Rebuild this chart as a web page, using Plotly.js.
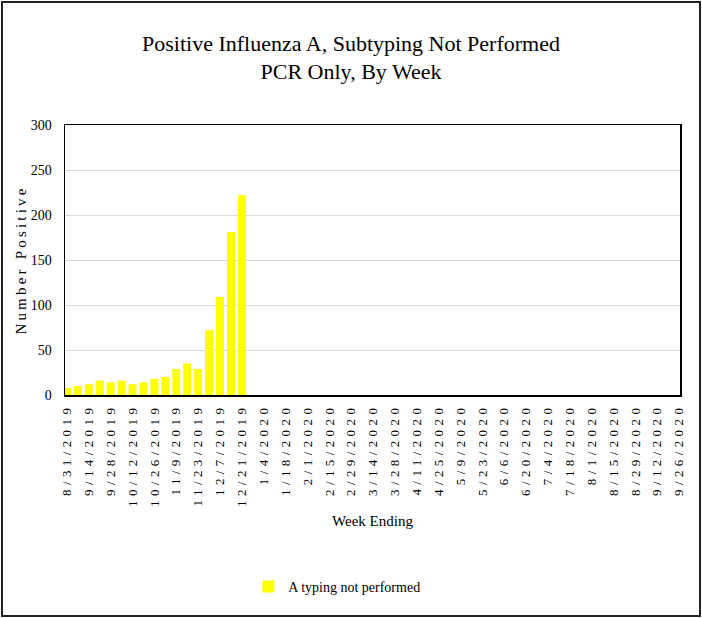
<!DOCTYPE html>
<html>
<head>
<meta charset="utf-8">
<script src="https://cdn.plot.ly/plotly-3.0.1.min.js"></script>
<style>
  html, body { margin: 0; padding: 0; background: #fff; }
  #wrap { position: relative; width: 702px; height: 618px; }
  #chart { position: absolute; left: 0; top: 0; width: 702px; height: 618px; }
  #frame { position: absolute; left: 1px; top: 1px; width: 696px; height: 612px;
           border: 2px solid #222; pointer-events: none; }
  #chart .xtick text { letter-spacing: 4.4px; }
  #chart .g-ytitle text { letter-spacing: 3.2px; }
</style>
</head>
<body>
<div id="wrap">
  <div id="chart"></div>
  <div id="frame"></div>
</div>
<script>
// Week-ending categories (weekly)
const weeks = [
  "8/31/2019","9/7/2019","9/14/2019","9/21/2019","9/28/2019","10/5/2019","10/12/2019",
  "10/19/2019","10/26/2019","11/2/2019","11/9/2019","11/16/2019","11/23/2019","11/30/2019",
  "12/7/2019","12/14/2019","12/21/2019","12/28/2019","1/4/2020","1/11/2020","1/18/2020",
  "1/25/2020","2/1/2020","2/8/2020","2/15/2020","2/22/2020","2/29/2020","3/7/2020",
  "3/14/2020","3/21/2020","3/28/2020","4/4/2020","4/11/2020","4/18/2020","4/25/2020",
  "5/2/2020","5/9/2020","5/16/2020","5/23/2020","5/30/2020","6/6/2020","6/13/2020",
  "6/20/2020","6/27/2020","7/4/2020","7/11/2020","7/18/2020","7/25/2020","8/1/2020",
  "8/8/2020","8/15/2020","8/22/2020","8/29/2020","9/5/2020","9/12/2020","9/19/2020",
  "9/26/2020"
];

// Reported counts (weeks with data only)
const aTypingNotPerformed = [8, 10, 12, 16, 14, 16, 12, 14, 18, 20, 29, 35, 29, 72, 109, 181, 222];

// Labelled ticks on the x axis
const tickLabels = [
  "8/31/2019","9/14/2019","9/28/2019","10/12/2019","10/26/2019","11/9/2019","11/23/2019",
  "12/7/2019","12/21/2019","1/4/2020","1/18/2020","2/1/2020","2/15/2020","2/29/2020",
  "3/14/2020","3/28/2020","4/11/2020","4/25/2020","5/9/2020","5/23/2020","6/6/2020",
  "6/20/2020","7/4/2020","7/18/2020","8/1/2020","8/15/2020","8/29/2020","9/12/2020",
  "9/26/2020"
];

const yVals = weeks.map((w, i) => (i < aTypingNotPerformed.length ? aTypingNotPerformed[i] : null));

const FONT = "Liberation Serif, Times New Roman, serif";

const data = [{
  type: "bar",
  name: "A typing not performed",
  x: weeks,
  y: yVals,
  marker: { color: "#FFFF00", line: { width: 0 } },
  hoverinfo: "x+y"
}];

const layout = {
  width: 702,
  height: 618,
  paper_bgcolor: "#ffffff",
  plot_bgcolor: "#ffffff",
  font: { family: FONT, color: "#000", size: 14 },
  margin: { l: 65, r: 22, t: 125, b: 223, pad: 0 },
  bargap: 0.27,
  title: {
    text: "Positive Influenza A, Subtyping Not Performed<br>PCR Only, By Week",
    font: { family: FONT, size: 22, color: "#000" },
    x: 0.5, xanchor: "center",
    yref: "container", y: 0.918, yanchor: "middle"
  },
  xaxis: {
    type: "category",
    categoryorder: "array",
    categoryarray: weeks,
    range: [-0.18, 56.08],
    tickmode: "array",
    tickvals: tickLabels,
    ticktext: tickLabels,
    tickangle: -90,
    tickfont: { family: FONT, size: 13, color: "#000" },
    ticks: "",
    ticklabelstandoff: 2,
    showgrid: false,
    showline: true, mirror: true, linecolor: "#000", linewidth: 1.5,
    zeroline: false,
    automargin: false,
    title: { text: "Week Ending", font: { family: FONT, size: 15, color: "#000" }, standoff: 53 }
  },
  yaxis: {
    range: [0, 300],
    dtick: 50,
    tick0: 0,
    tickfont: { family: FONT, size: 14, color: "#000" },
    ticks: "",
    ticklabelstandoff: 9,
    showgrid: true, gridcolor: "#d9d9d9", gridwidth: 1,
    showline: true, mirror: true, linecolor: "#000", linewidth: 1.5,
    zeroline: false,
    automargin: false,
    title: { text: "Number Positive", font: { family: FONT, size: 15, color: "#000" }, standoff: 0 }
  },
  showlegend: true,
  legend: {
    orientation: "h",
    x: 0.442, xanchor: "center",
    y: -0.711, yanchor: "middle",
    font: { family: FONT, size: 14, color: "#000" },
    itemwidth: 30,
    bgcolor: "rgba(0,0,0,0)"
  }
};

Plotly.newPlot("chart", data, layout, { displayModeBar: false, staticPlot: true });
</script>
</body>
</html>
